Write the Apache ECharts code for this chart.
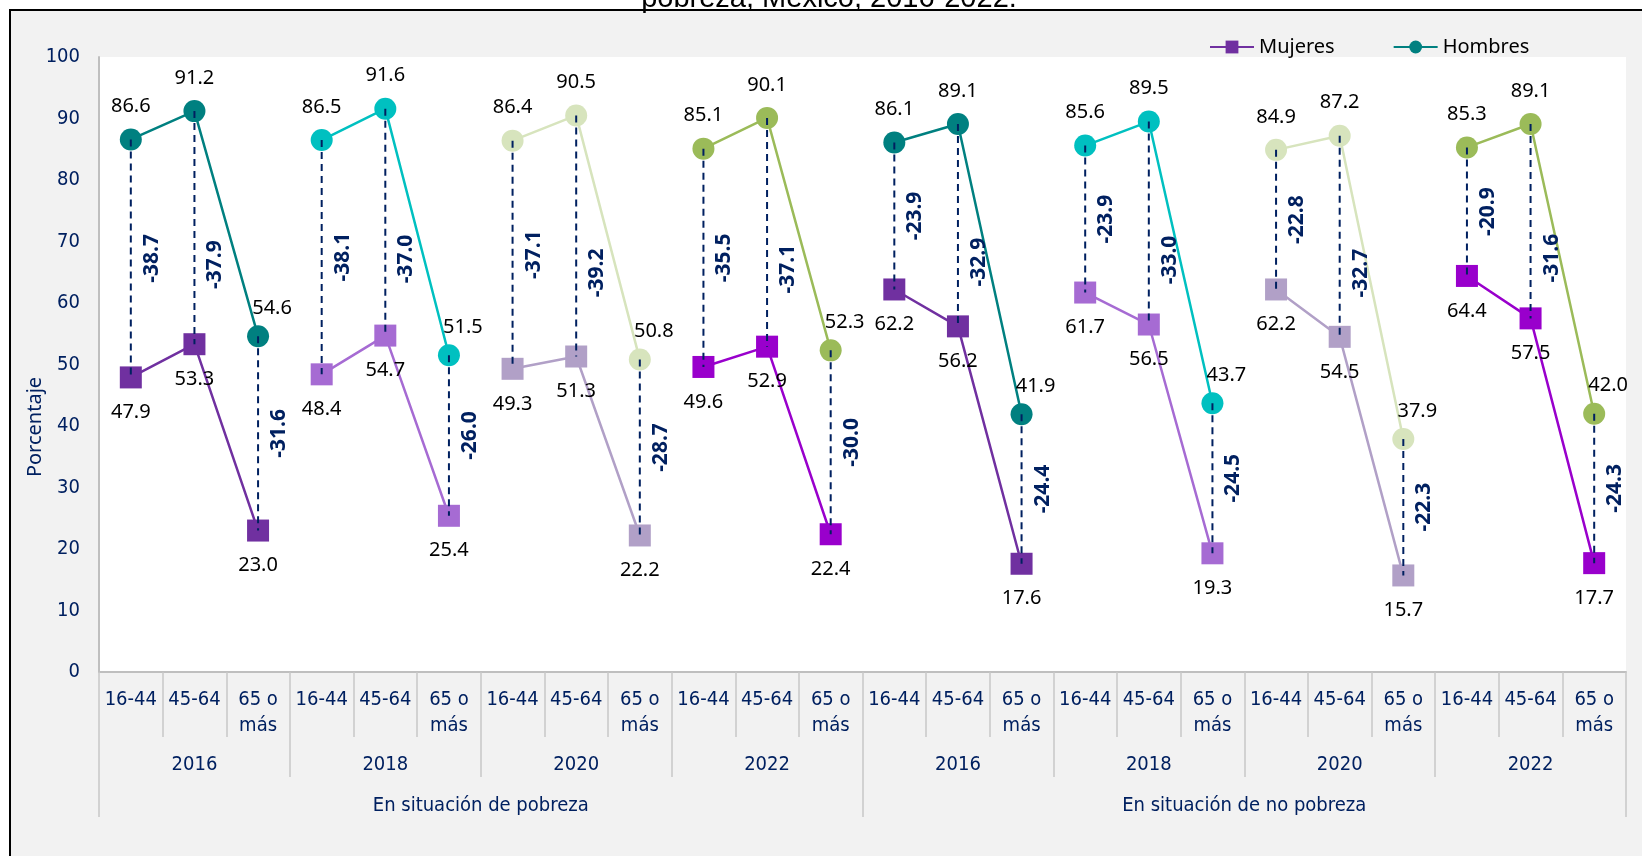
<!DOCTYPE html>
<html>
<head>
<meta charset="utf-8">
<script src="https://cdn.jsdelivr.net/npm/echarts@6/dist/echarts.min.js"></script>
<style>
  html, body { margin: 0; padding: 0; background: #fff; }
  #main { width: 1642px; height: 856px; }
</style>
</head>
<body>
<div id="main"></div>
<script>
// datos
var edades = ['16-44', '45-64', '65 o\nmás'];
var anios = ['2016', '2018', '2020', '2022', '2016', '2018', '2020', '2022'];
var situaciones = ['En situación de pobreza', 'En situación de no pobreza'];
var mujeres = [47.9, 53.3, 23.0, 48.4, 54.7, 25.4, 49.3, 51.3, 22.2, 49.6, 52.9, 22.4,
               62.2, 56.2, 17.6, 61.7, 56.5, 19.3, 62.2, 54.5, 15.7, 64.4, 57.5, 17.7];
var hombres = [86.6, 91.2, 54.6, 86.5, 91.6, 51.5, 86.4, 90.5, 50.8, 85.1, 90.1, 52.3,
               86.1, 89.1, 41.9, 85.6, 89.5, 43.7, 84.9, 87.2, 37.9, 85.3, 89.1, 42.0];
var brechas = [-38.7, -37.9, -31.6, -38.1, -37.0, -26.0, -37.1, -39.2, -28.7, -35.5, -37.1, -30.0,
               -23.9, -32.9, -24.4, -23.9, -33.0, -24.5, -22.8, -32.7, -22.3, -20.9, -31.6, -24.3];

var coloresM = ['#7030a0', '#a66bd3', '#b1a0c7', '#9900cc'];
var coloresH = ['#008080', '#00c0c0', '#d7e4bd', '#9bbb59'];

var azul = '#002060';
var fCond = '"DejaVu Sans Condensed", "Liberation Sans Narrow", sans-serif';
var fNum = '"Noto Sans", "DejaVu Sans", sans-serif';

var categorias = [];
anios.forEach(function () { edades.forEach(function (e) { categorias.push(e); }); });

var chart = echarts.init(document.getElementById('main'));

function fmt(p) { return p.value.toFixed(1); }

var series = [];
anios.forEach(function (a, g) {
  var dm = [], dh = [];
  categorias.forEach(function (c, i) {
    var dentro = Math.floor(i / 3) === g;
    var ult = i % 3 === 2;
    dm.push(dentro ? mujeres[i] : null);
    // la etiqueta del grupo 65 o más va un poco a la derecha
    dh.push(dentro ? (ult ? { value: hombres[i], label: { offset: [14, 5] } } : hombres[i]) : null);
  });
  var cm = coloresM[g % 4], ch = coloresH[g % 4];
  series.push({
    name: 'Mujeres', type: 'line', data: dm, symbol: 'rect', symbolSize: 22,
    lineStyle: { color: cm, width: 2.5 }, itemStyle: { color: cm },
    label: { show: true, position: 'bottom', distance: 14, color: '#000',
             fontFamily: fNum, fontSize: 20, formatter: fmt },
    z: 3
  });
  series.push({
    name: 'Hombres', type: 'line', data: dh, symbol: 'circle', symbolSize: 22,
    lineStyle: { color: ch, width: 2.5 }, itemStyle: { color: ch },
    label: { show: true, position: 'top', distance: 12, color: '#000',
             fontFamily: fNum, fontSize: 20, formatter: fmt },
    z: 3
  });
});

// lineas punteadas de brecha con su etiqueta
series.push({
  type: 'custom', z: 10, silent: true,
  data: hombres.map(function (h, i) { return [i, h, mujeres[i], brechas[i]]; }),
  encode: { x: 0, y: [1, 2] },
  renderItem: function (params, api) {
    var i = api.value(0);
    var p1 = api.coord([i, api.value(1)]);
    var p2 = api.coord([i, api.value(2)]);
    var medio = (api.value(1) + api.value(2)) / 2 - (i % 3 === 1 ? 6 : 0);
    var pl = api.coord([i, medio]);
    return {
      type: 'group',
      children: [
        { type: 'line', shape: { x1: p1[0], y1: p1[1], x2: p2[0], y2: p2[1] },
          style: { stroke: azul, lineWidth: 2, lineDash: [7, 5] } },
        { type: 'text', x: p1[0] + 21, y: pl[1], rotation: Math.PI / 2,
          style: { text: api.value(3).toFixed(1), fill: azul, font: 'bold 21px ' + fNum,
                   align: 'center', verticalAlign: 'middle' } }
      ]
    };
  }
});

var option = {
  backgroundColor: '#fff',
  animation: false,
  graphic: [
    { type: 'rect', z: -100, shape: { x: 10, y: 10, width: 1700, height: 900 },
      style: { fill: '#f2f2f2', stroke: '#000', lineWidth: 2 } },
    { type: 'text', z: 100, x: 829, y: 13,
      style: { text: 'pobreza, México, 2016-2022.', fill: '#000', font: '29px "Liberation Sans", Arial',
               align: 'center', verticalAlign: 'bottom' } },
    { type: 'text', z: 100, x: 35, y: 427, rotation: Math.PI / 2,
      style: { text: 'Porcentaje', fill: azul, font: '20px ' + fNum, align: 'center', verticalAlign: 'middle' } }
  ],
  legend: {
    data: ['Mujeres', 'Hombres'],
    left: 1204, top: 32,
    itemWidth: 44, itemHeight: 16, itemGap: 58,
    textStyle: { color: '#000', fontFamily: fNum, fontSize: 20 }
  },
  grid: { left: 99, right: 16, top: 57, bottom: 184, show: true, backgroundColor: '#fff', borderWidth: 0 },
  xAxis: [
    {
      type: 'category', data: categorias, position: 'bottom',
      axisLine: { lineStyle: { color: '#bfbfbf', width: 2 } },
      axisTick: { show: true, interval: 0, length: 65, lineStyle: { color: '#c8c8c8', width: 1.5 } },
      axisLabel: { interval: 0, margin: 15, color: azul, fontFamily: fCond, fontSize: 20, lineHeight: 26 }
    },
    {
      type: 'category', data: anios, position: 'bottom',
      axisLine: { show: false },
      axisTick: { show: true, interval: 0, length: 105, lineStyle: { color: '#c8c8c8', width: 1.5 } },
      axisLabel: { interval: 0, margin: 83, color: azul, fontFamily: fCond, fontSize: 20 }
    },
    {
      type: 'category', data: situaciones, position: 'bottom',
      axisLine: { show: false },
      axisTick: { show: true, interval: 0, length: 145, lineStyle: { color: '#c8c8c8', width: 1.5 } },
      axisLabel: { interval: 0, margin: 124, color: azul, fontFamily: fCond, fontSize: 20 }
    }
  ],
  yAxis: {
    type: 'value', min: 0, max: 100, interval: 10,
    axisLine: { show: true, lineStyle: { color: '#bfbfbf', width: 2 } },
    axisTick: { show: false },
    splitLine: { show: false },
    axisLabel: { margin: 19, color: azul, fontFamily: fCond, fontSize: 20 }
  },
  series: series
};

chart.setOption(option);
</script>
</body>
</html>
